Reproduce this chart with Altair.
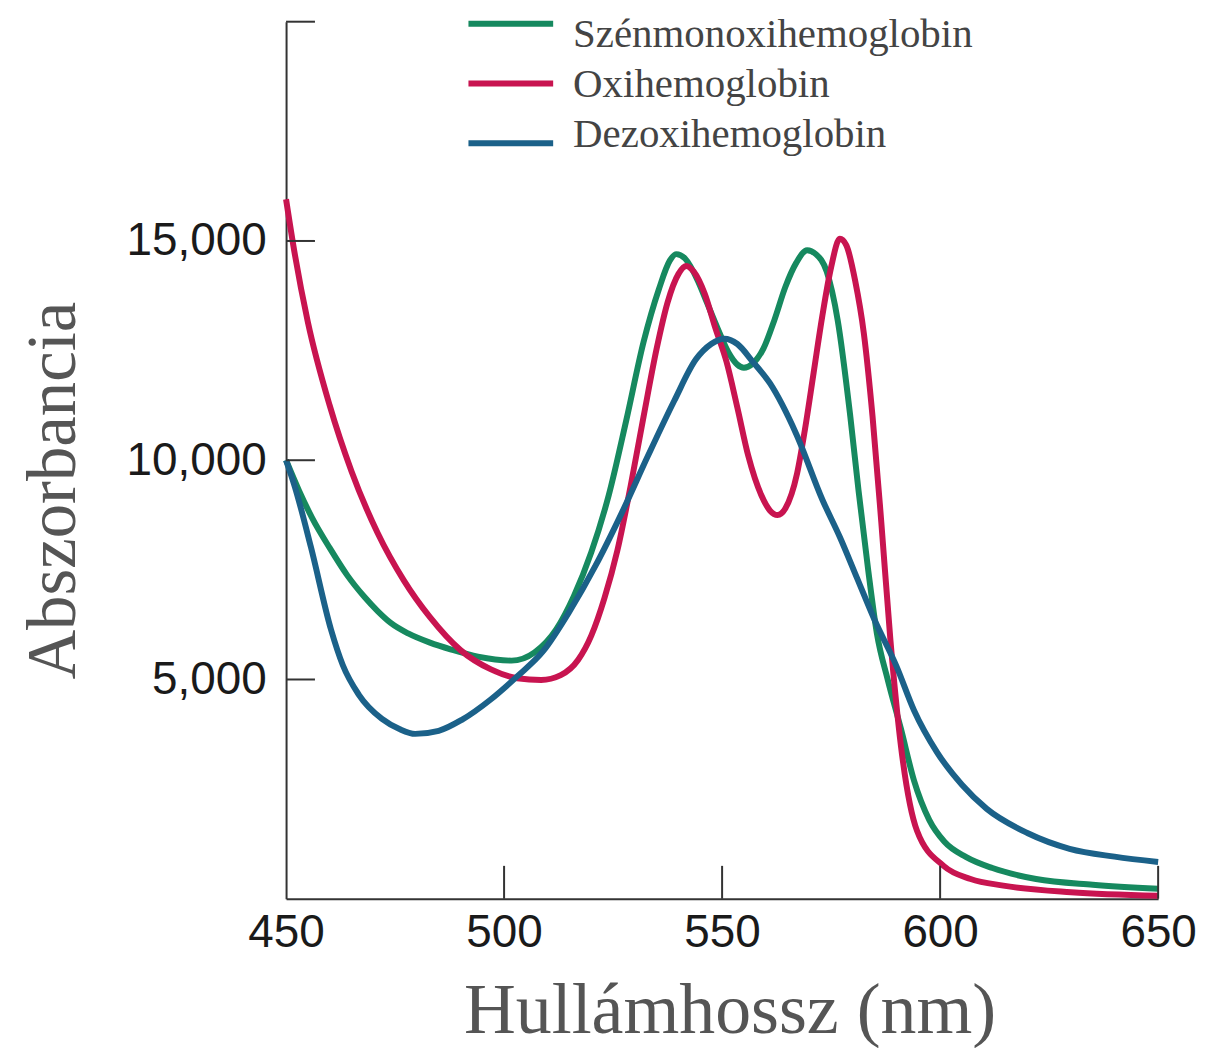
import altair as alt
import pandas as pd

series_names = ["Szénmonoxihemoglobin", "Oxihemoglobin", "Dezoxihemoglobin"]
series_colors = ["#16895f", "#c81450", "#1b6189"]

# Szénmonoxihemoglobin (green)
co_nm = [450, 453, 456, 460, 464, 468, 471, 474, 478, 483, 488, 494, 501.7, 507, 512, 516, 520,
         524, 528, 532, 535.5, 538, 539.5, 541.5, 544.4, 546.5, 549, 551.5, 553.5, 555,
         557, 559.5, 562, 564.5, 567, 569.5, 571.5, 574, 576.5, 579.4, 581.3, 583.5, 585.5,
         588, 591, 594, 597.5, 601, 606, 612, 622, 635, 650]
co_abs = [10000, 9300, 8680, 8000, 7380, 6880, 6560, 6290, 6050, 5840, 5680, 5520, 5430, 5620,
          6150, 6900, 7900, 9200, 10900, 12700, 13900, 14550, 14700, 14600, 14100, 13600, 13000,
          12450, 12180, 12110, 12200, 12550, 13200, 13950, 14500, 14790, 14700, 14300, 13200,
          11000, 9300, 7500, 6050, 4990, 3880, 2700, 1800, 1300, 950, 700, 450, 320, 230]

# Oxihemoglobin (red)
ox_nm = [450, 452, 455, 460, 465, 471, 477, 483, 490, 497, 503, 508.5, 513, 517, 520, 523,
         526, 529, 532, 535, 537.5, 540, 541.8, 543.5, 546, 548.5, 551, 553.5, 556, 559, 561,
         562.7, 564.5, 567.2, 569, 571, 573, 575, 577, 578.5, 580.5, 582.5, 584.5, 586.5, 588.6,
         591, 594.7, 600.8, 607, 614.5, 630, 650]
ox_abs = [15950, 14700, 13150, 11250, 9750, 8340, 7260, 6420, 5670, 5230, 5030, 4990, 5100, 5450,
          6000, 6850, 7950, 9400, 11000, 12550, 13600, 14250, 14430, 14300, 13800, 13000, 12250,
          11200, 10100, 9200, 8850, 8750, 8900, 9700, 10700, 12000, 13300, 14400, 15050, 14900,
          14100, 12900, 11000, 8600, 5900, 3500, 1550, 750, 450, 300, 150, 70]

# Dezoxihemoglobin (blue)
de_nm = [450, 452, 455.7, 460.3, 463, 466.7, 472, 476, 479.6, 485, 490.3, 497, 503, 509, 515,
         521, 527, 533, 539, 544, 547.5, 550.5, 553.5, 557, 561, 567, 573, 577, 581, 585, 590,
         594, 599.3, 605, 610.7, 620, 629.7, 640, 650]
de_abs = [10000, 9400, 8020, 6140, 5330, 4650, 4100, 3870, 3760, 3830, 4080, 4550, 5070, 5650, 6550,
          7600, 8800, 10100, 11350, 12300, 12650, 12770, 12650, 12250, 11750, 10600, 9100, 8250,
          7300, 6350, 5300, 4300, 3340, 2600, 2050, 1500, 1140, 960, 840]

x_label_values = [450, 500, 550, 600, 650]
y_label_values = [5000, 10000, 15000]
x_inner_ticks = [500, 550, 600, 650]
y_inner_ticks = [5000, 10000, 15000, 20000]

rows = []
for name, xs, ys in zip(series_names, [co_nm, ox_nm, de_nm], [co_abs, ox_abs, de_abs]):
    for xv, yv in zip(xs, ys):
        rows.append({"series": name, "nm": xv, "abs": yv})
df = pd.DataFrame(rows)

X_TITLE = "Hullámhossz (nm)"
Y_TITLE = "Abszorbancia"

xscale = alt.Scale(domain=[450, 650], nice=False, zero=False)
yscale = alt.Scale(domain=[0, 20000], nice=False)
x_axis = alt.Axis(values=x_label_values, labelExpr="format(datum.value, 'd')")
y_axis = alt.Axis(values=y_label_values, labelExpr="format(datum.value, ',')")
color = alt.Color("series:N", scale=alt.Scale(domain=series_names, range=series_colors), legend=None)

lines = alt.Chart(df).mark_line(strokeWidth=6, interpolate="monotone").encode(
    x=alt.X("nm:Q", scale=xscale, title=X_TITLE, axis=x_axis),
    y=alt.Y("abs:Q", scale=yscale, title=Y_TITLE, axis=y_axis),
    color=color,
    detail="series:N",
)

xt = alt.Chart(pd.DataFrame({"t": x_inner_ticks})).mark_rule(color="#333", strokeWidth=2).encode(
    x=alt.X("t:Q", scale=xscale, title=X_TITLE, axis=x_axis),
    y=alt.value(880),
    y2=alt.value(847),
)

yt = alt.Chart(pd.DataFrame({"v": y_inner_ticks})).mark_rule(color="#333", strokeWidth=2).encode(
    y=alt.Y("v:Q", scale=yscale, title=Y_TITLE, axis=y_axis),
    x=alt.value(0),
    x2=alt.value(29),
)

main = alt.layer(lines, xt, yt)

leg_df = pd.DataFrame({"series": series_names})
leg_rule = alt.Chart(leg_df).mark_rule(strokeWidth=6).encode(
    x=alt.value(183),
    x2=alt.value(268),
    y=alt.Y("series:N", scale=alt.Scale(type="point", domain=series_names, range=[2, 122], padding=0), axis=None),
    color=color,
)
leg_text = alt.Chart(leg_df).mark_text(
    align="left", baseline="alphabetic", font="Liberation Serif", fontSize=41, color="#444"
).encode(
    x=alt.value(288),
    y=alt.Y("series:N", scale=alt.Scale(type="point", domain=series_names, range=[25, 126], padding=0), axis=None),
    text="series:N",
)

chart = alt.layer(main, leg_rule, leg_text).resolve_scale(y="independent").properties(
    width=875,
    height=880,
    autosize=alt.AutoSizeParams(type="none"),
    padding={"left": 279, "top": 12, "right": 40, "bottom": 148},
).configure_view(strokeWidth=0).configure_axis(
    grid=False,
    ticks=False,
    domainColor="#333",
    domainWidth=2,
    labelFont="Liberation Sans",
    labelFontSize=46,
    labelColor="#1a1a1a",
    titleFont="Liberation Serif",
    titleFontWeight="normal",
    titleColor="#555",
    labelFlush=False,
    labelOverlap=False,
).configure_axisX(
    labelPadding=12,
    titleFontSize=72,
    titleX=445,
    titleY=134,
    titleBaseline="alphabetic",
    titleAlign="center",
).configure_axisY(
    labelPadding=20,
    titleFontSize=69,
    titleX=-212,
    titleY=470,
    titleAngle=270,
    titleBaseline="alphabetic",
    titleAlign="center",
)

chart.save("out.html", embed_options={"renderer": "svg", "actions": False})
